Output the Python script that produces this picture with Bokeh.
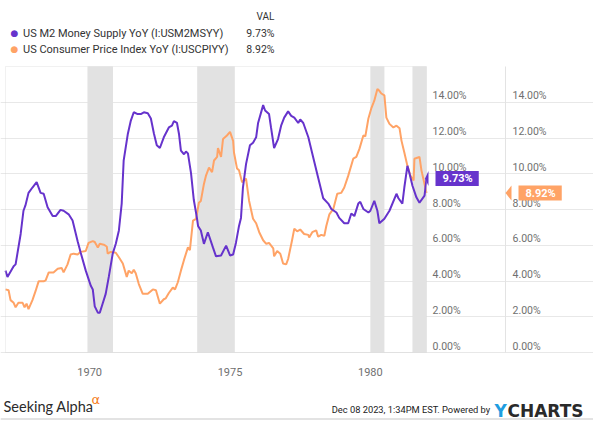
from bokeh.plotting import figure
from bokeh.models import (Range1d, LinearAxis, FixedTicker, PrintfTickFormatter,
                          Label, PolyAnnotation, BoxAnnotation)
from bokeh.embed import file_html
from bokeh.resources import INLINE

# ---------------- data ----------------
series_names = ["US M2 Money Supply YoY (I:USM2MSYY)",
                "US Consumer Price Index YoY (I:USCPIYY)"]

m2_dates = [1967.00, 1967.07, 1967.29, 1967.36, 1967.54, 1967.64, 1967.71, 1967.82, 1967.96,
            1968.11, 1968.25, 1968.36, 1968.50, 1968.68, 1968.79, 1968.96, 1969.07, 1969.25,
            1969.39, 1969.57, 1969.68, 1969.86, 1970.04, 1970.11, 1970.18, 1970.29, 1970.36,
            1970.46, 1970.57, 1970.68, 1970.82, 1970.93, 1971.04, 1971.14, 1971.21, 1971.36,
            1971.46, 1971.57, 1971.71, 1971.82, 1971.93, 1972.07, 1972.18, 1972.29, 1972.39,
            1972.50, 1972.64, 1972.82, 1972.93, 1973.00, 1973.11, 1973.18, 1973.25, 1973.36,
            1973.43, 1973.50, 1973.61, 1973.71, 1973.82, 1973.86, 1973.96, 1974.07, 1974.21,
            1974.39, 1974.50, 1974.68, 1974.86, 1975.00, 1975.11, 1975.21, 1975.32, 1975.39,
            1975.46, 1975.57, 1975.71, 1975.82, 1975.93, 1976.00, 1976.18, 1976.25, 1976.39,
            1976.46, 1976.57, 1976.71, 1976.82, 1976.93, 1977.07, 1977.18, 1977.29, 1977.43,
            1977.50, 1977.61, 1977.79, 1977.96, 1978.14, 1978.32, 1978.50, 1978.61, 1978.79,
            1978.89, 1979.07, 1979.21, 1979.32, 1979.43, 1979.57, 1979.64, 1979.75, 1979.93,
            1980.00, 1980.14, 1980.25, 1980.32, 1980.50, 1980.68, 1980.93, 1981.00, 1981.14,
            1981.21, 1981.32, 1981.39, 1981.50, 1981.64, 1981.75, 1981.93, 1982.00]
m2_values = [4.58, 4.23, 4.83, 4.93, 6.63, 7.93, 8.23, 8.93, 9.23,
             9.53, 8.93, 8.88, 8.13, 7.63, 7.63, 7.98, 7.93, 7.73,
             7.38, 6.23, 5.58, 4.58, 3.73, 3.53, 2.58, 2.23, 2.23,
             2.73, 3.28, 4.23, 5.53, 6.08, 6.83, 8.33, 10.73, 12.24,
             12.94, 13.44, 13.34, 13.34, 13.44, 13.39, 13.09, 12.24, 11.59,
             11.44, 12.04, 12.59, 12.69, 12.94, 12.84, 12.24, 11.29, 11.09,
             11.24, 11.14, 10.04, 8.53, 7.53, 7.08, 6.83, 6.08, 6.73,
             5.88, 5.38, 5.43, 5.98, 5.43, 5.48, 6.13, 7.08, 7.53,
             9.23, 10.54, 11.59, 11.74, 12.04, 12.84, 13.84, 13.54, 13.34,
             12.59, 11.44, 11.94, 12.69, 13.14, 13.49, 13.24, 13.14, 12.84,
             13.04, 12.84, 12.04, 10.94, 9.78, 8.63, 8.33, 8.03, 7.83,
             7.53, 7.23, 7.23, 7.78, 7.63, 8.33, 8.43, 8.03, 7.83,
             7.93, 8.48, 7.93, 7.23, 7.48, 7.93, 8.88, 8.63, 8.33,
             9.23, 10.44, 10.04, 9.33, 8.68, 8.38, 8.78, 9.73]

cpi_dates = [1967.00, 1967.11, 1967.18, 1967.29, 1967.36, 1967.46, 1967.61, 1967.68, 1967.75,
             1967.82, 1967.96, 1968.07, 1968.18, 1968.36, 1968.43, 1968.54, 1968.71, 1968.86,
             1969.00, 1969.07, 1969.21, 1969.32, 1969.43, 1969.57, 1969.68, 1969.86, 1969.96,
             1970.11, 1970.18, 1970.29, 1970.36, 1970.50, 1970.61, 1970.64, 1970.75, 1970.93,
             1971.04, 1971.18, 1971.32, 1971.39, 1971.50, 1971.57, 1971.64, 1971.75, 1971.89,
             1972.07, 1972.25, 1972.36, 1972.50, 1972.64, 1972.71, 1972.82, 1972.96, 1973.04,
             1973.14, 1973.25, 1973.36, 1973.50, 1973.57, 1973.68, 1973.79, 1973.89, 1973.96,
             1974.07, 1974.14, 1974.25, 1974.36, 1974.43, 1974.54, 1974.57, 1974.68, 1974.75,
             1974.89, 1975.00, 1975.11, 1975.14, 1975.25, 1975.32, 1975.43, 1975.57, 1975.68,
             1975.82, 1975.93, 1976.04, 1976.18, 1976.29, 1976.39, 1976.54, 1976.57, 1976.68,
             1976.79, 1976.89, 1977.00, 1977.07, 1977.21, 1977.29, 1977.39, 1977.50, 1977.64,
             1977.79, 1977.82, 1977.93, 1978.07, 1978.14, 1978.25, 1978.36, 1978.43, 1978.54,
             1978.68, 1978.82, 1978.96, 1979.07, 1979.21, 1979.39, 1979.50, 1979.61, 1979.75,
             1979.82, 1979.93, 1980.04, 1980.14, 1980.25, 1980.32, 1980.39, 1980.50, 1980.57,
             1980.68, 1980.82, 1980.93, 1981.04, 1981.11, 1981.21, 1981.32, 1981.43, 1981.54,
             1981.57, 1981.75, 1981.82, 1981.93, 1982.00]
cpi_values = [3.53, 3.48, 2.93, 2.78, 2.53, 2.78, 2.78, 2.53, 2.73,
              2.43, 2.93, 3.43, 3.98, 3.98, 4.03, 4.48, 4.48, 4.68,
              4.73, 4.48, 4.93, 5.48, 5.53, 5.48, 5.63, 5.68, 6.13,
              6.23, 6.18, 5.88, 6.08, 6.03, 5.93, 5.53, 5.63, 5.58,
              5.33, 4.98, 4.23, 4.58, 4.43, 4.63, 4.43, 3.83, 3.28,
              3.28, 3.53, 3.48, 2.73, 2.98, 3.03, 3.33, 3.63, 3.53,
              3.93, 4.58, 5.18, 5.88, 5.73, 7.38, 7.48, 8.38, 8.48,
              9.43, 9.88, 10.34, 10.09, 10.74, 10.94, 11.44, 10.94, 11.94,
              12.14, 12.34, 11.84, 11.19, 10.29, 10.19, 9.53, 9.73, 8.48,
              7.48, 7.23, 6.73, 6.28, 6.08, 6.13, 5.83, 5.38, 5.68,
              5.53, 4.98, 4.93, 5.23, 6.28, 6.93, 6.78, 6.88, 6.63,
              6.58, 6.43, 6.73, 6.83, 6.48, 6.58, 6.53, 7.08, 7.73,
              8.03, 8.88, 8.93, 9.23, 9.88, 10.84, 10.94, 11.39, 12.14,
              12.09, 13.09, 13.69, 14.09, 14.74, 14.64, 14.49, 14.39, 13.14,
              12.79, 12.59, 12.69, 12.54, 11.84, 11.19, 10.44, 9.88, 9.63,
              10.84, 10.94, 10.19, 9.43, 8.92]

recession_starts = [1969.92, 1973.83, 1980.00, 1981.50]
recession_ends = [1970.83, 1975.17, 1980.50, 1982.83]

x_ticks = [1970, 1975, 1980]
y_ticks = [0, 2, 4, 6, 8, 10, 12, 14]

# ---------------- style / layout ----------------
PURPLE = "#6633cc"
ORANGE = "#ffa366"
BAND = "#e2e2e2"
GRID = "#e8e8e8"
TICK_TXT = "#707070"
FONT = "Roboto"

W, H = 593, 421                 # whole figure (frame covers all of it)
X0, X1 = 1967.0, 1982.0         # plotted period
Y0, Y1 = 0, 16                  # plotted percent range
PLOT_L, PLOT_R = 5, 426         # page pixels of the plot box
PLOT_T, PLOT_B = 66, 352
LBL_SHIFT = 0.36                # axis labels sit a little above their grid lines

ppx = (PLOT_R - PLOT_L) / (X1 - X0)
ppy = (PLOT_B - PLOT_T) / (Y1 - Y0)
x_start = X0 - PLOT_L / ppx
x_end = x_start + W / ppx
y_start = Y0 - (H - PLOT_B) / ppy
y_end = y_start + H / ppy

p = figure(width=W, height=H,
           x_range=Range1d(x_start, x_end), y_range=Range1d(y_start, y_end),
           output_backend="svg", toolbar_location=None, y_axis_location=None,
           min_border=0)
p.outline_line_color = None
p.background_fill_color = "white"
p.border_fill_color = "white"

p.xgrid.visible = False
p.ygrid.ticker = FixedTicker(ticks=y_ticks)
p.ygrid.bounds = (X0, X1)
p.ygrid.grid_line_color = GRID
p.ygrid.grid_line_width = 1

# recession shading (clipped to the plotted period)
p.quad(left=[max(s, X0) for s in recession_starts],
       right=[min(e, X1) for e in recession_ends],
       bottom=Y0, top=Y1, fill_color=BAND, line_color=None)

p.line(cpi_dates, cpi_values, line_color=ORANGE, line_width=2)
p.line(m2_dates, m2_values, line_color=PURPLE, line_width=2)

# plot box border
p.add_layout(BoxAnnotation(left=X0, right=X1, bottom=Y0, top=Y1,
                           fill_alpha=0, line_color="#cfcfcf", line_width=1))

# x axis (drawn at the bottom of the plot box)
xa = p.xaxis[0]
xa.fixed_location = Y0
xa.ticker = FixedTicker(ticks=x_ticks)
xa.axis_line_color = None
xa.major_tick_line_color = None
xa.minor_tick_line_color = None
xa.major_tick_out = 0
xa.major_tick_in = 0
xa.minor_tick_out = 0
xa.major_label_standoff = 15
xa.major_label_text_font = FONT
xa.major_label_text_font_size = "11px"
xa.major_label_text_color = TICK_TXT

# two right value axes (one per series)
p.extra_y_ranges = {"lbl": Range1d(y_start - LBL_SHIFT, y_end - LBL_SHIFT)}


def right_axis(location, line_color, standoff):
    ax = LinearAxis(y_range_name="lbl", ticker=FixedTicker(ticks=y_ticks),
                    formatter=PrintfTickFormatter(format="%.2f%%"),
                    fixed_location=location,
                    bounds=(Y0 - LBL_SHIFT, Y1 - LBL_SHIFT))
    ax.axis_line_color = line_color
    ax.major_tick_line_color = None
    ax.minor_tick_line_color = None
    ax.major_tick_out = 0
    ax.major_tick_in = 0
    ax.minor_tick_out = 0
    ax.minor_tick_in = 0
    ax.major_label_standoff = standoff
    ax.major_label_text_font = FONT
    ax.major_label_text_font_size = "10.5px"
    ax.major_label_text_color = TICK_TXT
    p.add_layout(ax, "right")


AXIS2_GAP = 79  # px between the plot box and the second value axis
right_axis(X1, None, 6)
right_axis(X1 + AXIS2_GAP / ppx, "#e3e3e3", 7)


# value flags: tip / box-left offsets in px from the plot box edge
def flag(tip_px, box_px, v, color):
    tip = X1 + tip_px / ppx
    base = X1 + box_px / ppx
    half = 7.5 / ppy
    p.add_layout(PolyAnnotation(xs=[tip, base, base], ys=[v, v + half, v - half],
                                fill_color=color, fill_alpha=1.0, line_color=None))
    p.add_layout(Label(x=X1, y=v, x_offset=box_px + 7, text=f"{v:.2f}%",
                       text_align="left", text_baseline="middle",
                       text_color="white", text_font=FONT, text_font_style="bold",
                       text_font_size="11px",
                       background_fill_color=color, background_fill_alpha=1.0,
                       padding=dict(left=7, right=6, top=1, bottom=1)))


flag(-1.5, 2, m2_values[-1], PURPLE)
flag(AXIS2_GAP, AXIS2_GAP + 6, cpi_values[-1], ORANGE)


# header / footer texts, positioned in page pixels
def txt(x, y, text, size, color="#333333", align="left", baseline="middle",
        font=FONT, style="normal"):
    p.add_layout(Label(x=x, y=H - y, x_units="screen", y_units="screen",
                       text=text, text_font=font, text_font_size=size,
                       text_color=color, text_align=align, text_baseline=baseline,
                       text_font_style=style))


txt(274, 16, "VAL", "10px", align="right")
for i, (name, col, vals) in enumerate(zip(series_names, [PURPLE, ORANGE],
                                          [m2_values, cpi_values])):
    yy = 32.5 + 16.3 * i
    txt(14, yy, "●", "9px", color=col, align="center", font="DejaVu Sans")
    txt(22.5, yy, name, "11px")
    txt(274, yy, f"{vals[-1]:.2f}%", "10.5px", align="right")

txt(3, 405.5, "Seeking Alpha", "14.5px", color="#2b2b2b", baseline="alphabetic", font="Lato")
txt(91, 399, "α", "13px", color="#f47b20", baseline="alphabetic", font="DejaVu Sans")
txt(492, 409, "Dec 08 2023, 1:34PM EST.  Powered by", "9.3px", color="#222222",
    align="right", baseline="alphabetic", font="Roboto")
txt(494, 410.5, "Y", "17px", color="#1f9de0", baseline="alphabetic",
    font="DejaVu Sans", style="bold")
txt(507, 410.5, "CHARTS", "17px", color="#2a2a2a", baseline="alphabetic",
    font="DejaVu Sans", style="bold")

# thin rule at the very bottom
p.add_layout(BoxAnnotation(bottom=y_start + 2 / ppy, top=y_start + 3 / ppy,
                           fill_color="#c8c8c8", fill_alpha=1.0, line_color=None))

open("out.html", "w").write(file_html(p, INLINE))
